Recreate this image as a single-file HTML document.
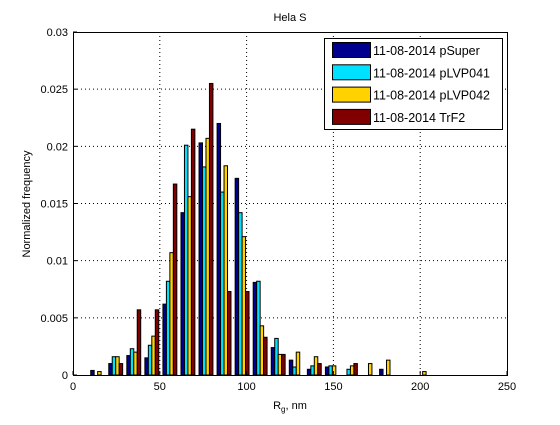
<!DOCTYPE html>
<html><head><meta charset="utf-8"><style>
body{margin:0;background:#fff;}
svg text{font-family:"Liberation Sans",sans-serif;}
</style></head><body>
<svg id="chart" width="560" height="420" xmlns="http://www.w3.org/2000/svg">
<rect x="0" y="0" width="560" height="420" fill="#fff"/>
<g id="grid"></g>
<g id="bars"></g>
<g id="axes"></g>
<text x="290" y="21" font-size="11" text-anchor="middle">Hela S</text>
<text x="290" y="409" font-size="11" text-anchor="middle">R<tspan font-size="8" dy="3">g</tspan><tspan dy="-3">, nm</tspan></text>
<text transform="translate(30,204) rotate(-90)" font-size="11" text-anchor="middle">Normalized frequency</text>
<g id="legend">
<rect x="324.5" y="38.5" width="178" height="91" fill="#fff" stroke="#000"/>
</g>
</svg>
<script>
const binCenters=[14.2,24.6,35,45.4,55.8,66.2,76.6,87,97.4,107.8,118.2,128.6,139,149.4,159.8,170.2,180.6,191,201.4];
const seriesNames=["11-08-2014 pSuper","11-08-2014 pLVP041","11-08-2014 pLVP042","11-08-2014 TrF2"];
const colors=["#00008f","#00e0ff","#ffd200","#800000"];
const pSuper=[0.0004,0.0010,0.0017,0.0015,0.0062,0.0142,0.0203,0.0220,0.0172,0.0081,0.0024,0.0013,0.0005,0.0007,0,0,0.0005,0,0];
const pLVP041=[0,0.0016,0.0023,0.0026,0.0082,0.0201,0.0182,0.0160,0.0142,0.0082,0.0032,0.0007,0.0008,0.0008,0.0005,0,0,0,0];
const pLVP042=[0.0003,0.0016,0.0020,0.0034,0.0107,0.0156,0.0207,0.0183,0.0121,0.0043,0.0018,0.0020,0.0016,0.0008,0.0008,0.0010,0.0013,0,0.0003];
const trf2=[0,0.0010,0.0057,0.0057,0.0167,0.0215,0.0255,0.0073,0.0073,0.0033,0.0018,0,0.0010,0,0.0010,0,0,0,0];
const xTicks=[0,50,100,150,200,250];
const yTicks=[0,0.005,0.01,0.015,0.02,0.025,0.03];
const yTickLabels=["0","0.005","0.01","0.015","0.02","0.025","0.03"];
const L=73,R=507,T=32,B=375;
const xs=v=>L+(v/250)*(R-L);
const ys=v=>B-(v/0.03)*(B-T);
const NS="http://www.w3.org/2000/svg";
function mk(tag,attrs,parent){const e=document.createElementNS(NS,tag);for(const k in attrs)e.setAttribute(k,attrs[k]);parent.appendChild(e);return e;}
const grid=document.getElementById('grid'),barsG=document.getElementById('bars'),axes=document.getElementById('axes'),leg=document.getElementById('legend');
xTicks.forEach((t,i)=>{
 if(i>0&&i<xTicks.length-1){const g=mk('line',{x1:xs(t),x2:xs(t),y1:T,y2:B,stroke:'#000','stroke-dasharray':'1,3'},grid);
 
 }
 const tk=mk('line',{x1:xs(t),x2:xs(t),y1:B,y2:B-4,stroke:'#000'},axes);
 
 
 const tx=mk('text',{x:xs(t),y:B+15,'font-size':11,'text-anchor':'middle'},axes);
 tx.textContent=t;
 
 
});
yTicks.forEach((t,i)=>{
 if(i>0&&i<yTicks.length-1){const g=mk('line',{x1:L,x2:R,y1:ys(t),y2:ys(t),stroke:'#000','stroke-dasharray':'1,3'},grid);
 
 }
 const tk=mk('line',{x1:L,x2:L+4,y1:ys(t),y2:ys(t),stroke:'#000'},axes);
 
 
 const tx=mk('text',{x:L-5,y:ys(t)+4,'font-size':11,'text-anchor':'end'},axes);
 tx.textContent=yTickLabels[i];
 
 
});
const series=[pSuper,pLVP041,pLVP042,trf2];
const offs=[-4,-2,0,2];
series.forEach((s,k)=>{
 s.forEach((v,i)=>{
  if(v<=0)return;
  const x0=xs(binCenters[i]+offs[k]),x1=xs(binCenters[i]+offs[k]+2);
  const r=mk('rect',{x:x0,y:ys(v),width:x1-x0,height:B-ys(v),fill:colors[k],stroke:'#000','stroke-width':1},barsG);
  
  
 });
});
const box=mk('rect',{x:L+0.5,y:T+0.5,width:R-L,height:B-T,fill:'none',stroke:'#000'},axes);


seriesNames.forEach((n,k)=>{
 const y=42+k*22.3;
 const p=mk('rect',{x:332.5,y:y+0.5,width:38,height:15,fill:colors[k],stroke:'#000'},leg);
 
 
 const t=mk('text',{x:373,y:y+13,'font-size':12.5},leg);
 t.textContent=n;
 
 
});
</script>
</body></html>
